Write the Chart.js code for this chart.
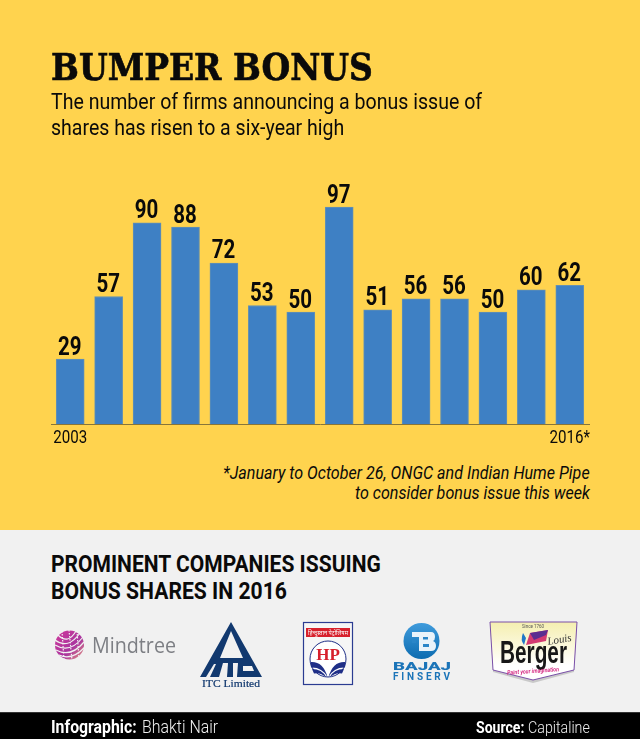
<!DOCTYPE html>
<html>
<head>
<meta charset="utf-8">
<title>Bumper Bonus</title>
<script src="https://cdn.jsdelivr.net/npm/chart.js@4"></script>
<style>
    html, body { margin: 0; padding: 0; }
    #page { position: relative; width: 640px; height: 739px; overflow: hidden; background: #f1f1f1; font-family: Roboto, sans-serif; color: #0a0a0a; }
    #yellow { position: absolute; left: 0; top: 0; width: 640px; height: 530px; background: #ffd34e; }
    #footer { position: absolute; left: 0; top: 712px; width: 640px; height: 27px; background: #000; border-top: 1px solid #333; box-sizing: border-box; }
    #chart { position: absolute; left: 0; top: 0; }
    #logos { position: absolute; left: 0; top: 0; }
    .t { position: absolute; white-space: nowrap; line-height: 1; transform-origin: left top; }
</style>
</head>
<body>
<div id="page">
    <div id="yellow"></div>
    <canvas id="chart" width="640" height="450"></canvas>

    <span class="t" data-w="322" style="left:51px;top:48px;font:bold 38px/1 'DejaVu Serif',serif;-webkit-text-stroke:0.7px #0a0a0a">BUMPER BONUS</span>
    <span class="t" data-w="431" style="left:51px;top:91px;font-size:22px">The number of firms announcing a bonus issue of</span>
    <span class="t" data-w="293" style="left:51px;top:117px;font-size:22px">shares has risen to a six-year high</span>
    <span class="t" data-w="367" style="left:223px;top:464px;font-size:18px;font-style:italic">*January to October 26, ONGC and Indian Hume Pipe</span>
    <span class="t" data-w="235" style="left:355px;top:484px;font-size:18px;font-style:italic">to consider bonus issue this week</span>
    <span class="t" data-w="330" style="left:51px;top:553px;font-size:23px;font-weight:700">PROMINENT COMPANIES ISSUING</span>
    <span class="t" data-w="236" style="left:51px;top:580px;font-size:23px;font-weight:700">BONUS SHARES IN 2016</span>

    <svg id="logos" width="640" height="712" xmlns="http://www.w3.org/2000/svg">
        <defs>
            <linearGradient id="mt" x1="0" y1="0" x2="1" y2="1">
                <stop offset="0" stop-color="#d0389a"/><stop offset="0.6" stop-color="#a9359f"/><stop offset="1" stop-color="#e79a7c"/>
            </linearGradient>
            <linearGradient id="bj" x1="0" y1="0" x2="0" y2="1">
                <stop offset="0" stop-color="#3f9bdc"/><stop offset="1" stop-color="#0d6cb0"/>
            </linearGradient>
            <linearGradient id="bg" x1="0" y1="0" x2="0" y2="1">
                <stop offset="0" stop-color="#f5efb0"/><stop offset="0.75" stop-color="#ffffff"/>
            </linearGradient>
        </defs>

        <!-- Mindtree -->
        <circle cx="69.5" cy="645" r="14.5" fill="url(#mt)"/>
        <g fill="none" stroke="#f1f1f1" stroke-width="1.2">
            <path d="M55 640 Q68 650 80 633"/><path d="M55 645 Q70 654 83 637"/>
            <path d="M56 650 Q71 658 84 642"/><path d="M59 655 Q72 661 85 647"/>
            <path d="M58 635 Q68 645 76 631"/>
            <path d="M62 631 L64 660" stroke-dasharray="1.5 1.5"/><path d="M69 630 L72 660" stroke-dasharray="1.5 1.5"/><path d="M77 631 L79 659" stroke-dasharray="1.5 1.5"/>
        </g>
        <text x="92" y="653" font-family="'Open Sans',sans-serif" font-size="22" fill="#7d7f84" textLength="84" lengthAdjust="spacingAndGlyphs">Mindtree</text>

        <!-- ITC -->
        <path fill-rule="evenodd" d="M231 622 L262 677 L200 677 Z M231 631 L220 658 L243 658 Z" fill="#12396f"/>
        <g fill="#f1f1f1">
            <path d="M206 677 L214 664 L216 664 L210 677 Z"/>
            <path d="M219 677 L223 663 L228 663 L227 677 Z"/>
            <path d="M233 677 L233 663 L238 663 L237 677 Z"/>
            <path d="M243 666 L252 666 L254 671 L243 671 Z"/>
        </g>
        <text x="202" y="687" font-family="'Liberation Serif',serif" font-size="10" fill="#12396f" stroke="#12396f" stroke-width="0.2" textLength="58" lengthAdjust="spacingAndGlyphs">ITC Limited</text>

        <!-- HP -->
        <rect x="303.5" y="622.5" width="49" height="62" fill="#f6f6f6" stroke="#2b3c92" stroke-width="1.2"/>
        <rect x="306" y="628" width="44" height="9" fill="#d7202c"/>
        <text x="328" y="635" font-family="'Noto Sans',sans-serif" font-size="6" fill="#fff" text-anchor="middle" textLength="40" lengthAdjust="spacingAndGlyphs">हिन्दुस्तान पेट्रोलियम</text>
        <circle cx="328" cy="659" r="18" fill="#fff" stroke="#1f2f87" stroke-width="1"/>
        <text x="328" y="660" font-family="'Liberation Serif',serif" font-size="17" font-weight="bold" fill="#d7202c" text-anchor="middle">HP</text>
        <path d="M310.5 662 Q323 661 327.5 677 Q322 667 311 667.5 Z M345.5 662 Q333 661 328.5 677 Q334 667 345 667.5 Z" fill="#1f2f87"/>
        <path d="M312 669 Q322 669 326 677 Q320 672 314 673.5 Z M344 669 Q334 669 330 677 Q336 672 342 673.5 Z" fill="#1f2f87"/>

        <!-- Bajaj Finserv -->
        <circle cx="421.5" cy="641" r="18" fill="url(#bj)"/>
        <path d="M412 632 H431 Q435 632 435 637 Q435 640 433 641 Q436 642 436 646 Q436 651 431 651 H419 V637 H412 Z" fill="#e9f3fa"/>
        <path d="M423 637 H428 V639.5 H423 Z M423 644 H429 V647 H423 Z M412 640 H416 V643 H412 Z" fill="#2a86c8"/>
        <text x="393" y="669.5" font-family="Roboto,sans-serif" font-weight="900" font-size="10" fill="#1b74b8" textLength="58" lengthAdjust="spacingAndGlyphs">BAJAJ</text>
        <text x="393" y="679.5" font-family="Roboto,sans-serif" font-weight="700" font-size="10" fill="#1b74b8" textLength="57" lengthAdjust="spacing">FINSERV</text>

        <!-- Berger -->
        <path d="M490 622 H577 L574 670 L533 681 L493 670 Z" fill="#c9c9c9" transform="translate(0,2)"/>
        <path d="M490 622 H577 L574 670 L533 680 L493 670 Z" fill="url(#bg)" stroke="#7a4fa8" stroke-width="1"/>
        <text x="533" y="627.5" font-family="Roboto,sans-serif" font-size="4.5" fill="#555" text-anchor="middle">Since 1760</text>
        <path d="M526 645 L530 633 L548 630 L546 641 Z" fill="#d43a72"/>
        <path d="M530 633 L548 630 L546 635 L534 640 Z" fill="#5b2d90"/>
        <path d="M523 633 Q520 640 524 645 L526 638 Z" fill="#1f78c8"/>
        <text x="548" y="645" font-family="'Liberation Serif',serif" font-style="italic" font-size="11" fill="#333" transform="rotate(-10 548 645)">Louis</text>
        <text x="500" y="663" font-family="'Liberation Sans',sans-serif" font-weight="bold" font-size="31" fill="#171717" textLength="67" lengthAdjust="spacingAndGlyphs">Berger</text>
        <text x="507" y="673" font-family="Roboto,sans-serif" font-weight="700" font-style="italic" font-size="6.2" fill="#d62f86" textLength="52" lengthAdjust="spacingAndGlyphs" transform="rotate(-4 533 671)">Paint your imagination</text>
    </svg>

    <div id="footer"></div>
    <span class="t" data-w="86" style="left:51px;top:718px;font-size:18px;font-weight:700;color:#fff">Infographic:</span>
    <span class="t" data-w="76" style="left:142px;top:718px;font-size:18px;font-weight:300;color:#eee">Bhakti Nair</span>
    <span class="t" data-w="48" style="left:476px;top:719px;font-size:17px;font-weight:700;color:#fff">Source:</span>
    <span class="t" data-w="62" style="left:528px;top:719px;font-size:17px;font-weight:300;color:#eee">Capitaline</span>
</div>

<script>
    const years = ['2003', '2004', '2005', '2006', '2007', '2008', '2009', '2010', '2011', '2012', '2013', '2014', '2015', '2016*'];
    const bonusIssues = [29, 57, 90, 88, 72, 53, 50, 97, 51, 56, 56, 50, 60, 62];
    const shownYears = ['2003', '2016*'];

    // squeeze the wide Roboto text down to the condensed widths of the original
    document.querySelectorAll('.t').forEach(function(el) {
        el.style.transform = 'scaleX(' + (el.dataset.w / el.offsetWidth) + ')';
    });

    // numbers on top of the bars, year labels under the axis (both condensed)
    const barValues = {
        id: 'barValues',
        afterDatasetsDraw: function(chart) {
            const ctx = chart.ctx;
            const meta = chart.getDatasetMeta(0);
            const xScale = chart.scales.x;
            ctx.save();
            ctx.fillStyle = '#0a0a0a';
            ctx.textAlign = 'center';
            ctx.textBaseline = 'alphabetic';
            ctx.font = 'bold 25px Roboto';
            meta.data.forEach(function(bar, i) {
                ctx.save();
                ctx.translate(bar.x - 0.5, bar.y - 4.5);
                ctx.scale(0.82, 1);
                ctx.fillText(bonusIssues[i], 0, 0);
                ctx.restore();
            });
            ctx.font = '18px Roboto';
            shownYears.forEach(function(year) {
                ctx.save();
                ctx.translate(xScale.getPixelForValue(years.indexOf(year)), xScale.top + 18.5);
                ctx.scale(0.84, 1);
                ctx.fillText(year, 0, 0);
                ctx.restore();
            });
            ctx.restore();
        }
    };

    new Chart(document.getElementById('chart').getContext('2d'), {
        type: 'bar',
        data: {
            labels: years,
            datasets: [{
                data: bonusIssues,
                backgroundColor: '#3e80c4',
                borderColor: '#6490b2',
                borderWidth: 1,
                barThickness: 28
            }]
        },
        options: {
            responsive: false,
            animation: false,
            layout: { padding: { left: 51, right: 51, top: 178, bottom: 0 } },
            plugins: { legend: { display: false }, title: { display: false }, tooltip: { enabled: false } },
            scales: {
                x: {
                    grid: { display: false, drawTicks: false },
                    border: { display: true, color: '#87753a', width: 1 },
                    afterFit: function(scale) { scale.height = 26; },
                    ticks: { display: false }
                },
                y: { display: false, min: 0, max: 110 }
            }
        },
        plugins: [barValues]
    });
</script>
</body>
</html>
